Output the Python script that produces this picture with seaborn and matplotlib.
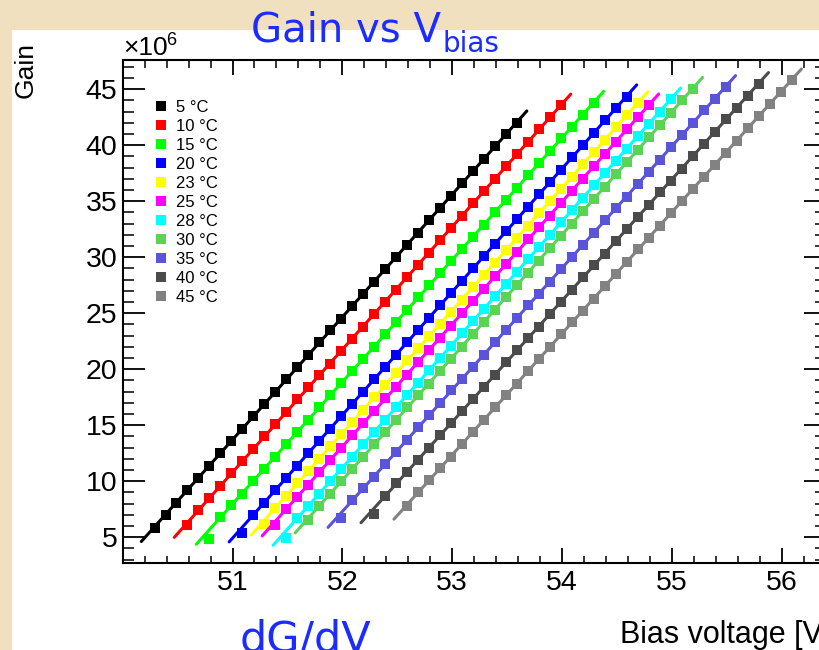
import numpy as np
import pandas as pd
import matplotlib
matplotlib.use("Agg")
import matplotlib.pyplot as plt
import matplotlib.patches as mpatches
from matplotlib.ticker import MultipleLocator, FixedLocator
from matplotlib.lines import Line2D
import seaborn as sns

# ---------------- data ----------------
temps = ["5 °C", "10 °C", "15 °C", "20 °C", "23 °C", "25 °C",
         "28 °C", "30 °C", "35 °C", "40 °C", "45 °C"]
colors = ["#000000", "#ff0000", "#00ff00", "#0000ff", "#ffff00", "#ff00ff",
          "#00ffff", "#59d454", "#5954d8", "#4b4b4b", "#828282"]
# first bias voltage of each scan (V), scans taken in 0.1 V steps
v_start = [50.29, 50.59, 50.79, 51.09, 51.29, 51.39, 51.49, 51.69, 51.99, 52.29, 52.59]
v_step = 0.1

gain_05 = [5.8, 7.0, 8.1, 9.2, 10.3, 11.4, 12.5, 13.6, 14.7, 15.8, 16.9, 18.0, 19.1, 20.2,
           21.3, 22.4, 23.5, 24.5, 25.6, 26.7, 27.8, 28.9, 30.0, 31.1, 32.2, 33.3, 34.4,
           35.5, 36.6, 37.7, 38.8, 39.9, 41.0, 42.0]
gain_10 = [6.1, 7.4, 8.5, 9.6, 10.7, 11.8, 12.9, 14.0, 15.1, 16.2, 17.3, 18.4, 19.5, 20.5,
           21.6, 22.7, 23.8, 24.9, 26.0, 27.1, 28.2, 29.3, 30.4, 31.5, 32.6, 33.7, 34.8,
           35.9, 37.0, 38.1, 39.2, 40.3, 41.4, 42.5, 43.6]
gain_15 = [4.8, 6.8, 7.9, 8.9, 10.0, 11.1, 12.2, 13.3, 14.4, 15.5, 16.6, 17.7, 18.8, 19.8,
           20.9, 22.0, 23.1, 24.2, 25.3, 26.4, 27.5, 28.6, 29.7, 30.7, 31.8, 32.9, 34.0,
           35.1, 36.2, 37.3, 38.4, 39.5, 40.6, 41.6, 42.7, 43.8]
gain_20 = [5.4, 7.0, 8.1, 9.2, 10.3, 11.4, 12.5, 13.6, 14.7, 15.8, 16.9, 18.0, 19.1, 20.2,
           21.3, 22.4, 23.5, 24.6, 25.7, 26.8, 27.9, 29.0, 30.1, 31.2, 32.3, 33.4, 34.5,
           35.6, 36.7, 37.8, 38.9, 40.0, 41.1, 42.2, 43.3, 44.3]
gain_23 = [6.2, 7.6, 8.7, 9.8, 10.9, 12.0, 13.1, 14.2, 15.3, 16.4, 17.5, 18.6, 19.7, 20.8,
           21.9, 23.0, 24.0, 25.1, 26.2, 27.3, 28.4, 29.5, 30.6, 31.7, 32.8, 33.9, 35.0,
           36.1, 37.2, 38.3, 39.4, 40.5, 41.6, 42.7, 43.8]
gain_25 = [6.1, 7.5, 8.6, 9.7, 10.8, 11.9, 13.0, 14.1, 15.2, 16.3, 17.4, 18.4, 19.5, 20.6,
           21.7, 22.8, 23.9, 25.0, 26.1, 27.2, 28.3, 29.4, 30.5, 31.6, 32.7, 33.7, 34.8,
           35.9, 37.0, 38.1, 39.2, 40.3, 41.4, 42.5, 43.6]
gain_28 = [4.9, 6.7, 7.8, 8.9, 10.0, 11.1, 12.2, 13.3, 14.4, 15.5, 16.6, 17.7, 18.8, 19.9,
           21.0, 22.1, 23.2, 24.3, 25.4, 26.5, 27.6, 28.7, 29.8, 30.9, 32.0, 33.1, 34.2,
           35.3, 36.4, 37.5, 38.6, 39.7, 40.8, 41.9, 43.0, 44.1]
gain_30 = [6.5, 7.8, 8.9, 10.0, 11.1, 12.2, 13.3, 14.4, 15.5, 16.6, 17.7, 18.7, 19.8, 20.9,
           22.0, 23.1, 24.2, 25.3, 26.4, 27.5, 28.6, 29.7, 30.8, 31.9, 33.0, 34.1, 35.2,
           36.3, 37.4, 38.5, 39.6, 40.7, 41.8, 42.9, 44.0, 45.0]
gain_35 = [6.7, 8.3, 9.4, 10.4, 11.5, 12.6, 13.7, 14.8, 15.9, 17.0, 18.1, 19.1, 20.2, 21.3,
           22.4, 23.5, 24.6, 25.7, 26.7, 27.8, 28.9, 30.0, 31.1, 32.2, 33.3, 34.4, 35.4,
           36.5, 37.6, 38.7, 39.8, 40.9, 42.0, 43.1, 44.1, 45.2]
gain_40 = [7.1, 8.7, 9.8, 10.8, 11.9, 13.0, 14.1, 15.2, 16.3, 17.3, 18.4, 19.5, 20.6, 21.7,
           22.8, 23.8, 24.9, 26.0, 27.1, 28.2, 29.3, 30.3, 31.4, 32.5, 33.6, 34.7, 35.8,
           36.8, 37.9, 39.0, 40.1, 41.2, 42.3, 43.3, 44.4, 45.5]
gain_45 = [7.8, 9.0, 10.1, 11.2, 12.2, 13.3, 14.4, 15.5, 16.6, 17.7, 18.7, 19.8, 20.9, 22.0,
           23.1, 24.2, 25.2, 26.3, 27.4, 28.5, 29.6, 30.7, 31.7, 32.8, 33.9, 35.0, 36.1,
           37.2, 38.2, 39.3, 40.4, 41.5, 42.6, 43.7, 44.7, 45.8]
gains = [gain_05, gain_10, gain_15, gain_20, gain_23, gain_25,
         gain_28, gain_30, gain_35, gain_40, gain_45]

x_ticks = [51, 52, 53, 54, 55, 56]
y_ticks = [5, 10, 15, 20, 25, 30, 35, 40, 45]

# ---------------- build table ----------------
rows = []
for t, v0, g in zip(temps, v_start, gains):
    vs = np.round(v0 + v_step * np.arange(len(g)), 2)
    for v, gg in zip(vs, g):
        rows.append((t, v, gg))
df = pd.DataFrame(rows, columns=["T", "V", "G"])

# ---------------- figure ----------------
sns.set_theme(style="white")
plt.rcParams["font.family"] = ["Liberation Sans", "DejaVu Sans"]
plt.rcParams["text.color"] = "black"
plt.rcParams["xtick.color"] = "black"
plt.rcParams["ytick.color"] = "black"

W, H = 820, 650
fig = plt.figure(figsize=(W / 100, H / 100), dpi=100)
fig.patch.set_facecolor("#f1e0c0")
# white canvas behind the plot
canvas = mpatches.Rectangle((12 / W, 0), 1, 1 - 30 / H, transform=fig.transFigure,
                            facecolor="white", edgecolor="none", zorder=-10)
fig.patches.append(canvas)

ax_l, ax_r, ax_t, ax_b = 123, 825.6, 60, 563
ax = fig.add_axes([ax_l / W, 1 - ax_b / H, (ax_r - ax_l) / W, (ax_b - ax_t) / H])
ax.set_zorder(1)
ax.set_facecolor("white")

for i, (t, c) in enumerate(zip(temps, colors)):
    sub = df[df["T"] == t]
    v = sub["V"].to_numpy()
    g = sub["G"].to_numpy()
    p = np.polyfit(v[1:], g[1:], 1)
    xs = np.array([v[0] - 0.12, v[-1] + 0.09])
    sns.scatterplot(x=v, y=g, color=c, marker="s", s=62, linewidth=0, ax=ax,
                    legend=False, zorder=3 + 2 * i)
    sns.lineplot(x=xs, y=np.polyval(p, xs), color=c, linewidth=2.2, ax=ax,
                 legend=False, zorder=4 + 2 * i)

ax.set_xlim(50.003, 56.4)
ax.set_ylim(2.7, 47.6)
ax.xaxis.set_major_locator(FixedLocator(x_ticks))
ax.xaxis.set_minor_locator(MultipleLocator(0.2))
ax.yaxis.set_major_locator(FixedLocator(y_ticks))
ax.yaxis.set_minor_locator(MultipleLocator(1))
ax.set_xticklabels([str(x) for x in x_ticks])
ax.set_yticklabels([str(y) for y in y_ticks])
ax.set_xlabel("")
ax.set_ylabel("")

for s in ax.spines.values():
    s.set_visible(True)
    s.set_color("black")
    s.set_linewidth(1.5)

ax.tick_params(axis="x", which="major", direction="in", length=10.8, width=1.3,
               top=True, bottom=True, labelsize=20.5, pad=5, colors="black")
ax.tick_params(axis="x", which="minor", direction="in", length=5.4, width=1.1,
               top=True, bottom=True)
ax.tick_params(axis="y", which="major", direction="in", length=15.5, width=1.3,
               left=True, right=True, labelsize=20.5, pad=4, colors="black")
ax.tick_params(axis="y", which="minor", direction="in", length=7.8, width=1.1,
               left=True, right=True)

handles = [Line2D([], [], marker="s", linestyle="none", color=c, markersize=7.2,
                  markeredgewidth=0) for c in colors]
ax.legend(handles, temps, loc="upper left", bbox_to_anchor=(0.044, 0.920),
          frameon=False, fontsize=12, handlelength=0.8, handletextpad=0.5,
          labelspacing=0.24, borderpad=0, borderaxespad=0)

# axis texts
fig.text(26 / W, 1 - 42 / H, "Gain", rotation=90, ha="center", va="top", fontsize=19)
fig.text(620 / W, 1 - 643 / H, "Bias voltage [V]", ha="left", va="baseline", fontsize=22)
fig.text(123 / W, 1 - 55 / H, "×10", ha="left", va="baseline", fontsize=19)
fig.text(166 / W, 1 - 45 / H, "6", ha="left", va="baseline", fontsize=13)

# slide texts
blue = "#1a2cff"
fig.text(251 / W, 1 - 42 / H, "Gain vs V", ha="left", va="baseline", fontsize=29,
         color=blue, family="DejaVu Sans")
fig.text(443 / W, 1 - 52 / H, "bias", ha="left", va="baseline", fontsize=20,
         color=blue, family="DejaVu Sans")
fig.text(240 / W, 1 - 652 / H, "dG/dV", ha="left", va="baseline", fontsize=31,
         color=blue, family="DejaVu Sans")

fig.savefig("out.png", dpi=100)
